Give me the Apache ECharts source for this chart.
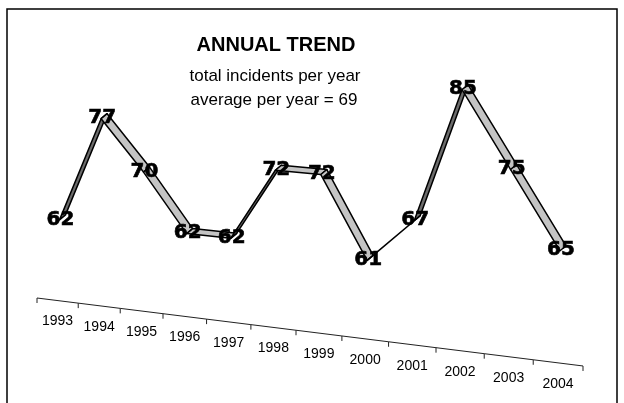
<!DOCTYPE html>
<html><head><meta charset="utf-8">
<script src="https://cdn.jsdelivr.net/npm/echarts@6/dist/echarts.min.js"></script>
<style>html,body{margin:0;padding:0;background:#fff}#c{width:624px;height:403px}</style>
</head><body><div id="c"></div>
<script>
// ---- data ----
const years = ['1993','1994','1995','1996','1997','1998','1999','2000','2001','2002','2003','2004'];
const incidents = [62,77,70,62,62,72,72,61,67,85,75,65];
const titleText = 'ANNUAL TREND';
const subtitleLines = ['total incidents per year', 'average per year = 69'];
const Y_MIN = 50, Y_MAX = 90;

// ---- view (3D-like projection of the cartesian grid) ----
const VIEW = { slope: 0.1245, persp: 0.0002, curve: 0.1025, dataDx: 5, depth: [6, -5] };

function project(cs, cx, cy, dx) {
  dx = dx || 0;
  const u = (cx - cs.x) / cs.width;
  const X = cs.x + cs.width * ((1 - VIEW.curve) * u + VIEW.curve * u * u) + dx;
  const base = cs.y + cs.height;
  const h = base - cy;
  const Y = base + VIEW.slope * (X - cs.x) - h * (1 + VIEW.persp * (X - cs.x));
  return [X, Y];
}

const FONT = '"Liberation Sans", Arial, sans-serif';

function renderRibbon(params, api) {
  const cs = params.coordSys;
  const i = params.dataIndex;
  const c = api.coord([i, api.value(1)]);
  const p = project(cs, c[0], c[1], VIEW.dataDx);
  const d = VIEW.depth;
  const children = [];
  if (i < incidents.length - 1) {
    const c2 = api.coord([i + 1, incidents[i + 1]]);
    const q = project(cs, c2[0], c2[1], VIEW.dataDx);
    const hx = d[0] / 2, hy = d[1] / 2;
    const sx = q[0] - p[0], sy = q[1] - p[1];
    const cross = sx * d[1] - sy * d[0];
    children.push({
      type: 'polygon',
      shape: { points: [[p[0] - hx, p[1] - hy], [q[0] - hx, q[1] - hy], [q[0] + hx, q[1] + hy], [p[0] + hx, p[1] + hy]] },
      style: { fill: cross > 0 ? '#6c6c6c' : '#c4c4c4', stroke: '#000', lineWidth: 1.5, lineJoin: 'round' },
      z2: 1
    });
  }
  children.push({
    type: 'text',
    x: p[0] - 2, y: p[1] + 2,
    style: { text: String(api.value(1)), font: 'bold 20px "DejaVu Sans", sans-serif', fill: '#000', stroke: '#000', lineWidth: 0.6, align: 'center', verticalAlign: 'middle' },
    z2: 10
  });
  return { type: 'group', children };
}

function renderAxis(params, api) {
  const cs = params.coordSys;
  const i = params.dataIndex;
  const c = api.coord([i, Y_MIN]);
  const bw = api.size([1, 0])[0];
  const a = project(cs, c[0] - bw / 2, c[1]);
  const b = project(cs, c[0] + bw / 2, c[1]);
  const m = project(cs, c[0], c[1]);
  const children = [
    { type: 'line', shape: { x1: a[0], y1: a[1], x2: b[0], y2: b[1] }, style: { stroke: '#222', lineWidth: 1 } },
    { type: 'line', shape: { x1: a[0], y1: a[1], x2: a[0], y2: a[1] + 5 }, style: { stroke: '#222', lineWidth: 1 } },
    { type: 'text', x: m[0], y: m[1] + 21, style: { text: years[i], font: '14px ' + FONT, fill: '#000', align: 'center', verticalAlign: 'middle' } }
  ];
  if (i === years.length - 1) {
    children.push({ type: 'line', shape: { x1: b[0], y1: b[1], x2: b[0], y2: b[1] + 5 }, style: { stroke: '#222', lineWidth: 1 } });
  }
  return { type: 'group', children };
}

const chart = echarts.init(document.getElementById('c'));
chart.setOption({
  animation: false,
  backgroundColor: '#fff',
  grid: { left: 37, right: 41, top: 20, bottom: 105 },
  xAxis: { type: 'category', data: years, boundaryGap: true, show: false },
  yAxis: { type: 'value', min: Y_MIN, max: Y_MAX, show: false, splitLine: { show: false } },
  graphic: [
    { type: 'rect', shape: { x: 7, y: 9, width: 610, height: 410 }, style: { fill: 'none', stroke: '#000', lineWidth: 1.5 }, z: 100 },
    { type: 'text', x: 276, y: 45, style: { text: titleText, font: 'bold 20px ' + FONT, fill: '#000', align: 'center', verticalAlign: 'middle' } },
    { type: 'text', x: 275, y: 76, style: { text: subtitleLines[0], font: '17px ' + FONT, fill: '#000', align: 'center', verticalAlign: 'middle' } },
    { type: 'text', x: 274, y: 100, style: { text: subtitleLines[1], font: '17px ' + FONT, fill: '#000', align: 'center', verticalAlign: 'middle' } }
  ],
  series: [
    { type: 'custom', name: 'axis', renderItem: renderAxis, clip: false, silent: true,
      data: years.map(y => [y, Y_MIN]) },
    { type: 'custom', name: 'incidents', renderItem: renderRibbon, clip: false, silent: true,
      data: incidents.map((v, i) => [years[i], v]) }
  ]
});
</script>
</body></html>
